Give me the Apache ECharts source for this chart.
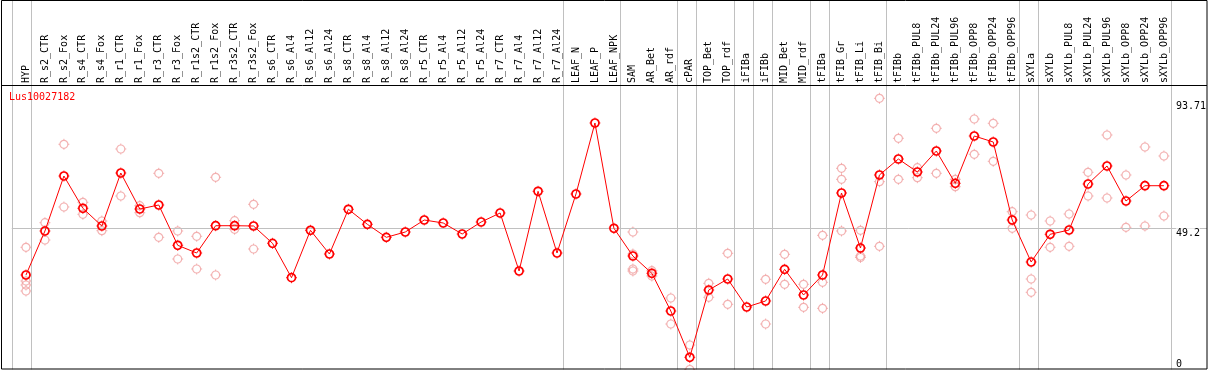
<!DOCTYPE html>
<html><head><meta charset="utf-8">
<script src="https://cdn.jsdelivr.net/npm/echarts@6/dist/echarts.min.js"></script>
<style>html,body{margin:0;padding:0;background:#fff}#c{width:1209px;height:370px}</style>
</head><body><div id="c"></div>
<script>
const geneName = 'Lus10027182';
const categories = ['HYP','R_s2_CTR','R_s2_Fox','R_s4_CTR','R_s4_Fox','R_r1_CTR','R_r1_Fox','R_r3_CTR','R_r3_Fox',
 'R_r1s2_CTR','R_r1s2_Fox','R_r3s2_CTR','R_r3s2_Fox','R_s6_CTR','R_s6_Al4','R_s6_Al12','R_s6_Al24',
 'R_s8_CTR','R_s8_Al4','R_s8_Al12','R_s8_Al24','R_r5_CTR','R_r5_Al4','R_r5_Al12','R_r5_Al24',
 'R_r7_CTR','R_r7_Al4','R_r7_Al12','R_r7_Al24','LEAF_N','LEAF_P','LEAF_NPK','SAM','AR_Bet','AR_rdf',
 'cPAR','TOP_Bet','TOP_rdf','iFIBa','iFIBb','MID_Bet','MID_rdf','tFIBa','tFIB_Gr','tFIB_Li','tFIB_Bi',
 'tFIBb','tFIBb_PUL8','tFIBb_PUL24','tFIBb_PUL96','tFIBb_OPP8','tFIBb_OPP24','tFIBb_OPP96',
 'sXYLa','sXYLb','sXYLb_PUL8','sXYLb_PUL24','sXYLb_PUL96','sXYLb_OPP8','sXYLb_OPP24','sXYLb_OPP96'];
const meanValues = [32.93,48.26,67.42,56.17,50.0,68.47,55.92,57.32,43.28,40.59,50.10,50.10,50.0,43.97,31.99,48.50,
 40.24,55.82,50.59,46.06,47.91,52.09,51.05,47.21,51.39,54.53,34.32,62.09,40.59,61.15,85.89,49.20,39.55,33.52,
 20.38,4.25,27.70,31.53,21.78,23.87,34.91,25.96,32.93,61.50,42.33,67.77,73.34,68.82,76.13,64.88,81.36,79.27,
 52.09,37.46,47.11,48.61,64.63,70.91,58.71,64.04,64.04];
const replicateValues = [
 [42.58,30.84,29.44,27.35],[51.15,45.12],[78.47,56.62],[58.26,54.08],[51.74,48.36],[76.83,60.45],[57.07,54.63],
 [68.36,46.06],[48.26,38.50],[46.41,35.02],[66.97,32.93],[51.85,48.85],[57.56,41.99],
 [],[],[],[],[],[],[],[],[],[],[],[],[],[],[],[],[],[],[],
 [47.91,40.24,35.02,34.32],[34.43,32.58],[24.91,15.85],[8.54,0],[30.03,25.16],[40.49,22.72],[],[31.43,15.85],
 [40.14,29.69],[29.69,21.67],[46.76,30.38,21.32],[70.10,66.27,48.26],[48.50,39.55,39.02],[94.49,65.44,42.93],
 [80.56,66.27],[70.31,66.83],[84.04,68.36],[66.27,63.69],[87.28,74.98],[85.78,72.54],[54.98,49.20],
 [53.83,31.53,26.90],[51.74,42.58],[54.18,42.93],[68.71,60.45],[81.71,59.76],[67.77,49.55],[77.53,50.0],[74.39,53.48]
];
const groupBreaks = [-1,0,28,31,34,35,37,38,39,41,42,45,52,53,60];
const yTickValues = [0, 49.2, 93.71];
const refValue = 49.2;

// layout
const W = 1209, H = 370;
const plotLeft = 16.5, plotRight = 33.5, plotTop = 86, plotBottom = 0.5;
const frameL = 1, frameR = 1207;
const yMax = 98.78;
const band = (W - plotLeft - plotRight) / categories.length;
const xAMin = (frameL - plotLeft) / band - 0.5;
const xAMax = (frameR - plotLeft) / band - 0.5;
const yAMax = yMax * (H - plotBottom) / (H - plotBottom - plotTop);
const font = 'DejaVu Sans Mono';
const spikePath = 'path://M5.5,0L5.5,1.6M5.5,9.4L5.5,11M0,5.5L1.6,5.5M9.4,5.5L11,5.5';

const scatterData = [];
replicateValues.forEach((reps, i) => reps.forEach(v => scatterData.push([categories[i], v])));
const breakLines = groupBreaks.map(b => ({xAxis: b + 0.25}));

function ringSeries(type, data, color, width, z, extra) {
  return [
    Object.assign({type: type, xAxisIndex: 1, yAxisIndex: 1, data: data, clip: false, z: z,
      symbol: 'circle', symbolSize: 8,
      itemStyle: {color: 'rgba(0,0,0,0)', borderColor: color, borderWidth: width}}, extra || {}),
    {type: 'scatter', xAxisIndex: 1, yAxisIndex: 1, data: data, clip: false, z: z - 0.5, silent: true,
      symbol: spikePath, symbolSize: 11,
      itemStyle: {color: 'rgba(0,0,0,0)', borderColor: color, borderWidth: 1}}
  ];
}

const chart = echarts.init(document.getElementById('c'));
chart.setOption({
  animation: false,
  backgroundColor: '#fff',
  title: {text: geneName, left: 9, top: 92, padding: 0,
    textStyle: {color: '#ff0000', fontFamily: font, fontSize: 10, fontWeight: 'normal'}},
  grid: [
    {left: frameL, right: W - frameR, top: 0, bottom: plotBottom},
    {left: plotLeft, right: plotRight, top: plotTop, bottom: plotBottom}
  ],
  xAxis: [
    {type: 'value', gridIndex: 0, min: xAMin, max: xAMax, show: false},
    {type: 'category', gridIndex: 1, data: categories, position: 'top', boundaryGap: true,
     axisLine: {show: false}, axisTick: {show: false}, splitLine: {show: false},
     axisLabel: {interval: 0, rotate: 90, margin: 3, color: '#000', fontFamily: font, fontSize: 10}}
  ],
  yAxis: [
    {type: 'value', gridIndex: 0, min: 0, max: yAMax, show: false},
    {type: 'value', gridIndex: 1, min: 0, max: yMax, position: 'right', z: 5,
     axisLine: {show: false}, axisTick: {show: false}, splitLine: {show: false},
     axisLabel: {customValues: yTickValues, margin: 2.5, color: '#000', fontFamily: font, fontSize: 10,
       verticalAlign: 'top', lineHeight: 11,
       verticalAlignMinLabel: 'bottom', backgroundColor: '#fff',
       formatter: v => String(v)}}
  ],
  graphic: [
    {type: 'rect', shape: {x: frameL + 0.5, y: 0.5, width: frameR - frameL - 0.5, height: H - 1.5},
     style: {fill: 'none', stroke: '#000', lineWidth: 1}, z: 100},
    {type: 'line', shape: {x1: frameL, y1: 85.5, x2: frameR, y2: 85.5},
     style: {stroke: '#000', lineWidth: 1}, z: 100}
  ],
  series: [
    {type: 'line', xAxisIndex: 0, yAxisIndex: 0, data: [], z: 1, silent: true,
     markLine: {silent: true, symbol: 'none', label: {show: false},
       lineStyle: {color: '#c0c0c0', width: 1, type: 'solid'},
       data: breakLines.concat([[{coord: [groupBreaks[0] + 0.25, refValue]}, {coord: [xAMax, refValue]}]])}}
  ].concat(
    ringSeries('scatter', scatterData, '#f0a0a0', 1.2, 3),
    ringSeries('line', meanValues, '#ff0000', 1.7, 5,
      {showAllSymbol: true, lineStyle: {color: '#ff0000', width: 1}})
  )
});
</script></body></html>
